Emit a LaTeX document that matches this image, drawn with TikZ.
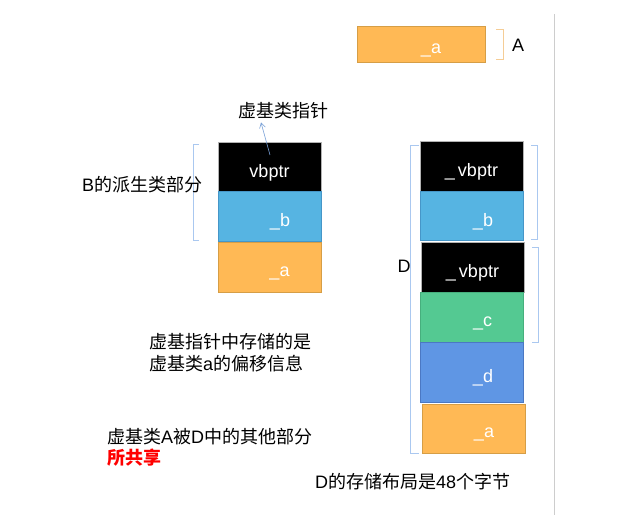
\documentclass[tikz,border=0pt]{standalone}
\usepackage{fontspec}
\setmainfont{Liberation Sans}
\newfontfamily\cjk{Noto Sans CJK SC}
\usetikzlibrary{arrows.meta,calc}
\definecolor{cOrange}{RGB}{255,185,85}
\definecolor{cOrangeB}{RGB}{214,158,70}
\definecolor{cBlue}{RGB}{86,180,226}
\definecolor{cBlueB}{RGB}{70,150,200}
\definecolor{cGreen}{RGB}{84,201,146}
\definecolor{cGreenB}{RGB}{70,175,125}
\definecolor{cDBlue}{RGB}{95,150,228}
\definecolor{cDBlueB}{RGB}{75,120,195}
\definecolor{cBrk}{RGB}{170,200,240}
\definecolor{cBrkO}{RGB}{245,205,150}
\definecolor{cArr}{RGB}{120,160,215}
\definecolor{cRule}{RGB}{205,205,205}
\newcommand\memtxt[1]{\raisebox{-6pt}[\height][\depth]{#1}}
\begin{document}
\begin{tikzpicture}[x=1pt,y=-1pt,
  every node/.style={font=\fontsize{18}{21.6}\selectfont},
  mem/.style={draw, line width=0.8pt, minimum width=103pt, minimum height=50pt, inner sep=0pt, text=white},
  blk/.style={mem, fill=black, draw=gray!60},
  org/.style={mem, fill=cOrange, draw=cOrangeB},
  blu/.style={mem, fill=cBlue, draw=cBlueB},
  grn/.style={mem, fill=cGreen, draw=cGreenB},
  dbl/.style={mem, fill=cDBlue, draw=cDBlueB},
  brk/.style={draw=cBrk, line width=0.8pt},
  txt/.style={inner sep=0pt, align=left, anchor=west},
  arr/.style={draw=cArr, line width=0.6pt, -{Straight Barb[length=5pt,width=6pt]}}
]
\useasboundingbox (0,0) rectangle (617,515);
\fill[white] (0,0) rectangle (617,515);
% vertical rule
\draw[cRule, line width=1pt] (554,14) -- (554,515);

% A
\node[org, minimum width=128pt, minimum height=36pt] (A) at (421,44) {\memtxt{\hspace{20pt}\_a}};
\draw[draw=cBrkO, line width=0.8pt] (496,29) -- (503,29) -- (503,59) -- (496,59);
\node[inner sep=0pt] (Alab) at (518,45) {A};

% B stack
\node[blk, minimum height=49pt] (Bvb) at (269.5,166.5) {\memtxt{vbptr}};
\node[blu] (Bb) at (269.5,216) {\memtxt{\hspace{21pt}\_b}};
\node[org] (Ba) at (269.5,267) {\memtxt{\hspace{20pt}\_a}};
\node[inner sep=1pt] (lblvb) at (283,111) {\cjk 虚基类指针};
\coordinate (atail) at (270,155);
\draw[arr] (atail) -- ($(lblvb.south)+(-22,2)$);
\draw[brk] (199,144) -- (193,144) -- (193,240) -- (199,240);
\node[txt] (Blab) at (82,185) {B{\cjk 的派生类部分}};

% D stack
\node[blk] (D1) at (471.5,166) {\memtxt{\_\,vbptr}};
\node[blu, minimum height=49pt] (D2) at (471.5,215.5) {\memtxt{\hspace{23pt}\_b}};
\node[blk] (D3) at (472.5,267) {\memtxt{\_\,vbptr}};
\node[grn] (D4) at (472,317) {\memtxt{\hspace{21pt}\_c}};
\node[dbl, minimum height=60pt] (D5) at (472,372) {\memtxt{\hspace{22pt}\_d}};
\node[org, minimum height=49pt] (D6) at (473.5,428.5) {\memtxt{\hspace{21pt}\_a}};
\draw[brk] (419,145) -- (410,145) -- (410,453) -- (419,453);
\node[inner sep=0pt] (Dlab) at (404,266) {D};
\draw[brk] (531,145) -- (537,145) -- (537,239) -- (531,239);
\draw[brk] (532,247) -- (538,247) -- (538,342) -- (532,342);

% texts
\node[txt] (t1) at (149,352.5) {{\cjk 虚基指针中存储的是}\\{\cjk 虚基类}a{\cjk 的偏移信息}};
\node[txt] (t2) at (107,447.5) {{\cjk 虚基类}A{\cjk 被}D{\cjk 中的其他部分}\\{\cjk\bfseries\color{red} 所共享}};
\node[txt] (t3) at (315,482) {D{\cjk 的存储布局是}48{\cjk 个字节}};
\end{tikzpicture}
\end{document}
